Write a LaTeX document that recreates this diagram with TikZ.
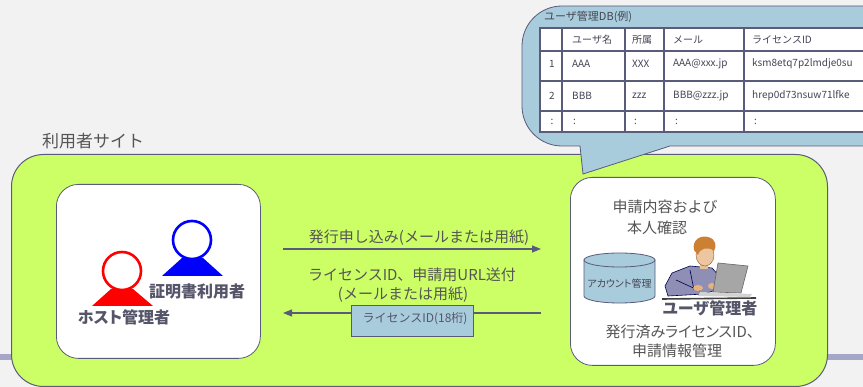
\documentclass[tikz,border=0pt]{standalone}
\usepackage{fontspec}
\setmainfont{Noto Sans CJK JP}
\newfontfamily\propjp{Noto Sans CJK JP}[RawFeature={+palt}]
\usetikzlibrary{arrows.meta}

\definecolor{bgcol}{HTML}{F2F2F2}
\definecolor{barcol}{HTML}{A6A6C6}
\definecolor{sitegreen}{HTML}{CCFF66}
\definecolor{edge}{HTML}{5A5A7A}
\definecolor{bubble}{HTML}{A8CCDC}
\definecolor{txt}{HTML}{555555}
\definecolor{lbl}{HTML}{55556A}
\definecolor{tabtxt}{HTML}{444455}

\tikzset{
  sitebox/.style={draw=edge, line width=1pt, fill=sitegreen, rounded corners=32pt},
  whitebox/.style={draw=edge, line width=0.8pt, fill=white, rounded corners=22pt},
  callout/.style={draw=edge, line width=0.8pt, fill=bubble},
  flow/.style={draw=edge, line width=1.2pt, -{Triangle[length=9pt,width=7pt]}},
  msg/.style={text=txt, font=\fontsize{15}{17}\selectfont, inner sep=0pt},
  role/.style={text=lbl, font=\propjp\fontsize{16}{18}\selectfont\bfseries, inner sep=0pt},
  cell/.style={text=tabtxt, font=\fontsize{10}{12}\selectfont, inner sep=0pt, anchor=west},
  tabrule/.style={draw=edge, line width=1.5pt},
  tagbox/.style={draw=edge, line width=0.8pt, fill=bubble, minimum width=122pt,
    minimum height=31pt, inner sep=0pt},
}

\begin{document}
\begin{tikzpicture}[x=1pt,y=-1pt]
\useasboundingbox (0,0) rectangle (863,387);
\clip (0,0) rectangle (863,387);
\fill[bgcol] (0,0) rectangle (863,387);

% horizontal rule behind the site panel
\fill[barcol] (0,354) rectangle (863,360);

% user site panel
\node[sitebox, minimum width=816pt, minimum height=232pt, anchor=north west, inner sep=0pt] (site) at (11,154) {};
\node[text=txt, font=\fontsize{17}{19}\selectfont, anchor=west, inner sep=0pt] (sitelabel) at (42,141) {利用者サイト};

% inner boxes
\node[whitebox, minimum width=204pt, minimum height=174pt, anchor=north west, inner sep=0pt] (lbox) at (56,184) {};
\node[whitebox, minimum width=205pt, minimum height=188pt, anchor=north west, inner sep=0pt] (rbox) at (570,177) {};

% speech bubble with the user database
\path[callout] (583,174) -- (580,146)
  {[rounded corners=40pt] -- (522,146) -- (522,6)}
  {[rounded corners=25pt] -- (890,6) -- (890,146)} -- (670,146) -- cycle;
\node[text=tabtxt, font=\fontsize{11}{13}\selectfont, anchor=west, inner sep=0pt] (dbtitle) at (544,17) {ユーザ管理DB(例)};

% table grid
\fill[white] (540,28) rectangle (900,132);
\foreach \yy in {51,81,111} \draw[tabrule] (540,\yy) -- (900,\yy);
\foreach \xx in {562,625,664,744} \draw[tabrule] (\xx,28) -- (\xx,132);
\draw[draw=edge, line width=2.6pt] (540,28) rectangle (900,132);

% table contents
\node[cell] (h1) at (572,40) {ユーザ名};
\node[cell] (h2) at (632,40) {所属};
\node[cell] (h3) at (673,40) {メール};
\node[cell] (h4) at (752,40) {ライセンスID};
\node[cell, anchor=center] (r1n) at (552,64) {1};
\node[cell] (r1a) at (572,64) {AAA};
\node[cell] (r1b) at (632,64) {XXX};
\node[cell] (r1c) at (673,64) {AAA@xxx.jp};
\node[cell] (r1d) at (752,64) {ksm8etq7p2lmdje0su};
\node[cell, anchor=center] (r2n) at (552,96) {2};
\node[cell] (r2a) at (572,96) {BBB};
\node[cell] (r2b) at (632,96) {zzz};
\node[cell] (r2c) at (673,96) {BBB@zzz.jp};
\node[cell] (r2d) at (752,96) {hrep0d73nsuw71lfke};
\node[cell, anchor=center] (r3n) at (552,122) {:};
\node[cell] (r3a) at (573,122) {:};
\node[cell] (r3b) at (634,122) {:};
\node[cell] (r3c) at (675,122) {:};
\node[cell] (r3d) at (754,122) {:};

% people on the user site
\fill[red] (111,289) -- (133,289) -- (153,306) -- (92,306) -- cycle;
\node[circle, draw=red, line width=2.6pt, fill=white, minimum size=38pt, inner sep=0pt] (hosthead) at (122,271) {};
\fill[blue] (182,258) -- (203,258) -- (223,276) -- (162,276) -- cycle;
\node[circle, draw=blue, line width=2.6pt, fill=white, minimum size=38pt, inner sep=0pt] (certhead) at (192,240) {};
\node[role] (certuser) at (197,291) {証明書利用者};
\node[role] (hostadmin) at (124,317) {ホスト管理者};

% messages between the sites
\coordinate (reqfrom) at (283,249);
\coordinate (reqto) at (541,249);
\coordinate (retfrom) at (541,313);
\coordinate (retto) at (283,313);
\draw[flow] (reqfrom) -- (reqto);
\draw[flow] (retfrom) -- (retto);
\node[msg] (reqlabel) at (419,238) {発行申し込み(メールまたは用紙)};
\node[msg] (retlabel1) at (412,275) {ライセンスID、申請用URL送付};
\node[msg] (retlabel2) at (403,295) {(メールまたは用紙)};
\node[tagbox, anchor=north west] (idtag) at (351,305) {};
\node[text=lbl, font=\fontsize{12}{14}\selectfont, inner sep=0pt] (idtagtext) at (415,319) {ライセンスID(18桁)};

% administrator side
\node[msg] (checklabel1) at (665,207) {申請内容および};
\node[msg] (checklabel2) at (657,228) {本人確認};

% account database cylinder
\path[draw=edge, line width=0.8pt, fill=bubble]
  (584,260) -- (584,296) arc[start angle=180, end angle=0, x radius=35.5, y radius=7]
  -- (655,260) -- cycle;
\draw[draw=edge, line width=0.8pt, fill=bubble] (619.5,260) ellipse[x radius=35.5, y radius=7];
\node[text=tabtxt, font=\propjp\fontsize{10}{12}\selectfont, inner sep=0pt] (acct) at (619.5,284) {アカウント管理};

% administrator at a laptop
\begin{scope}
  % shirt and arms
  \path[fill=black!15!blue!25!gray!70, draw=black!70!blue, line width=0.6pt]
    (668,296) -- (665,286) -- (672,273) -- (690,266) -- (712,268) -- (722,279)
    -- (716,290) -- (704,294) -- cycle;
  \draw[black!70!blue, line width=0.6pt] (690,270) -- (694,290);
  \draw[black!70!blue, line width=0.6pt] (676,280) -- (700,291);
  % hands
  \fill[orange!40!brown!60!white] (698,288) ellipse[x radius=5, y radius=3];
  \fill[orange!40!brown!60!white] (712,286) ellipse[x radius=4, y radius=3];
  % neck and face
  \fill[orange!30!brown!50!white] (700,262) rectangle (708,269);
  \fill[orange!30!brown!45!white, draw=brown!70!black, line width=0.4pt] (705,255) ellipse[x radius=9, y radius=11];
  % hair
  \fill[brown!80!orange] (694,250) .. controls (692,240) and (700,235) .. (708,237)
    .. controls (716,239) and (717,246) .. (714,251)
    .. controls (708,246) and (700,248) .. (698,255) -- cycle;
  % laptop screen and base
  \path[fill=gray!70, draw=black!60, line width=0.6pt] (718,263) -- (748,266) -- (741,293) -- (713,292) -- cycle;
  \fill[gray!35] (700,292) -- (752,294) -- (750,297) -- (698,296) -- cycle;
  % desk edge
  \draw[black!75, line width=1.6pt] (662,299) -- (756,298);
\end{scope}

\node[role] (useradmin) at (710,308) {ユーザ管理者};
\node[msg, font=\propjp\fontsize{15}{17}\selectfont] (issuedlabel1) at (680,332) {発行済みライセンスID、};
\node[msg] (issuedlabel2) at (677,351) {申請情報管理};
\end{tikzpicture}
\end{document}
